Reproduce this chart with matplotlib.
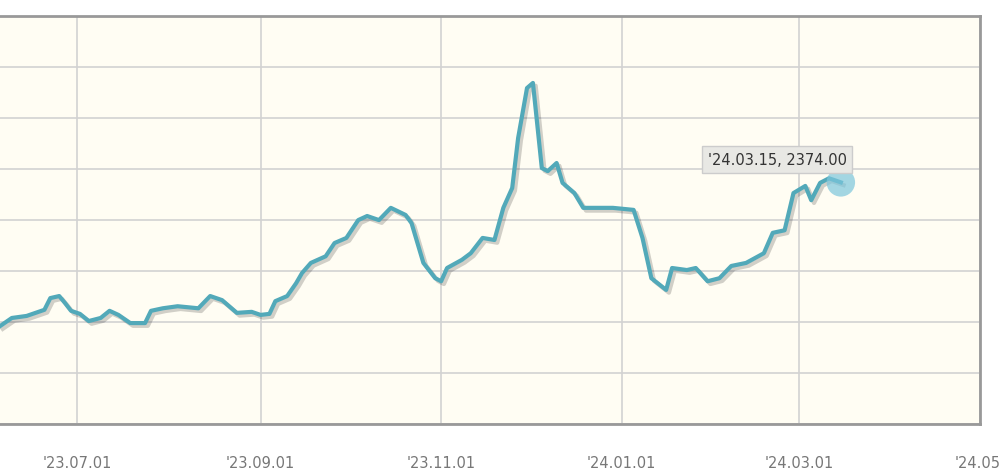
import matplotlib
matplotlib.use("Agg")
import matplotlib.pyplot as plt
import matplotlib.patheffects as pe
import pandas as pd

dates = ["2023-06-05","2023-06-09","2023-06-14","2023-06-17","2023-06-20","2023-06-22","2023-06-25","2023-06-27","2023-06-29",
 "2023-07-02","2023-07-05","2023-07-09","2023-07-12","2023-07-15","2023-07-19","2023-07-24","2023-07-26","2023-07-30",
 "2023-08-04","2023-08-11","2023-08-15","2023-08-19","2023-08-24","2023-08-29","2023-09-01","2023-09-04","2023-09-06",
 "2023-09-10","2023-09-13","2023-09-15","2023-09-18","2023-09-23","2023-09-26","2023-09-30","2023-10-04","2023-10-07",
 "2023-10-11","2023-10-15","2023-10-20","2023-10-22","2023-10-26","2023-10-30","2023-11-01","2023-11-03","2023-11-08",
 "2023-11-11","2023-11-15","2023-11-19","2023-11-22","2023-11-25","2023-11-27","2023-11-30","2023-12-02","2023-12-05",
 "2023-12-07","2023-12-10","2023-12-12","2023-12-16","2023-12-19","2023-12-22","2023-12-29","2024-01-05","2024-01-08",
 "2024-01-11","2024-01-16","2024-01-18","2024-01-23","2024-01-26","2024-01-30","2024-02-03","2024-02-07","2024-02-12",
 "2024-02-18","2024-02-21","2024-02-25","2024-02-28","2024-03-03","2024-03-05","2024-03-08","2024-03-11","2024-03-15"]
values = [2092,2108,2112,2118,2124,2147,2151,2137,2122,
 2116,2102,2108,2122,2114,2098,2098,2122,2127,
 2131,2127,2151,2143,2118,2120,2114,2116,2141,
 2151,2176,2196,2216,2229,2255,2265,2300,2308,
 2300,2324,2310,2294,2216,2186,2180,2206,2222,
 2235,2265,2261,2324,2363,2461,2559,2569,2402,
 2396,2412,2373,2353,2324,2324,2324,2320,2265,
 2186,2163,2206,2202,2206,2180,2186,2210,2216,
 2235,2275,2280,2353,2367,2339,2373,2382,2374]
tick_dates = ["2023-07-01","2023-09-01","2023-11-01","2024-01-01","2024-03-01","2024-05-01"]
tick_labels = ["'23.07.01","'23.09.01","'23.11.01","'24.01.01","'24.03.01","'24.05."]

x = pd.to_datetime(dates)
fig = plt.figure(figsize=(10, 4.77), dpi=100)
fig.patch.set_facecolor("white")
ax = fig.add_axes([0.0, 0.109, 0.98, 0.855])
ax.set_facecolor("#fffdf3")
ax.plot(x, values, color="#52a9b9", lw=3,
        path_effects=[pe.SimpleLineShadow(offset=(2, -2), alpha=0.18), pe.Normal()], zorder=3)
ax.scatter([x[-1]], [values[-1]], s=420, color="#7cc6dc", alpha=0.7, zorder=4, edgecolors="none")
ax.text(x[-1] - pd.Timedelta(days=45), values[-1] + 36, "'24.03.15, 2374.00", fontsize=10.5,
        color="#333333", bbox=dict(boxstyle="square,pad=0.4", fc="#e8e8e4", ec="#cccccc"), zorder=5)

ax.set_xlim(pd.Timestamp("2023-06-05"), pd.Timestamp("2024-05-01"))
ax.set_ylim(1900, 2700)
ax.set_yticks(range(1900, 2701, 100))
ax.set_xticks(pd.to_datetime(tick_dates))
ax.set_xticklabels(tick_labels, color="#777777", fontsize=10.5)
ax.tick_params(axis="y", left=False, labelleft=False)
ax.tick_params(axis="x", length=0, pad=22)
ax.grid(True, color="#d2d2d2", lw=1.2)
for s in ax.spines.values():
    s.set_color("#999999"); s.set_linewidth(2)
ax.spines["left"].set_visible(False)
fig.savefig("out.png", dpi=100)
